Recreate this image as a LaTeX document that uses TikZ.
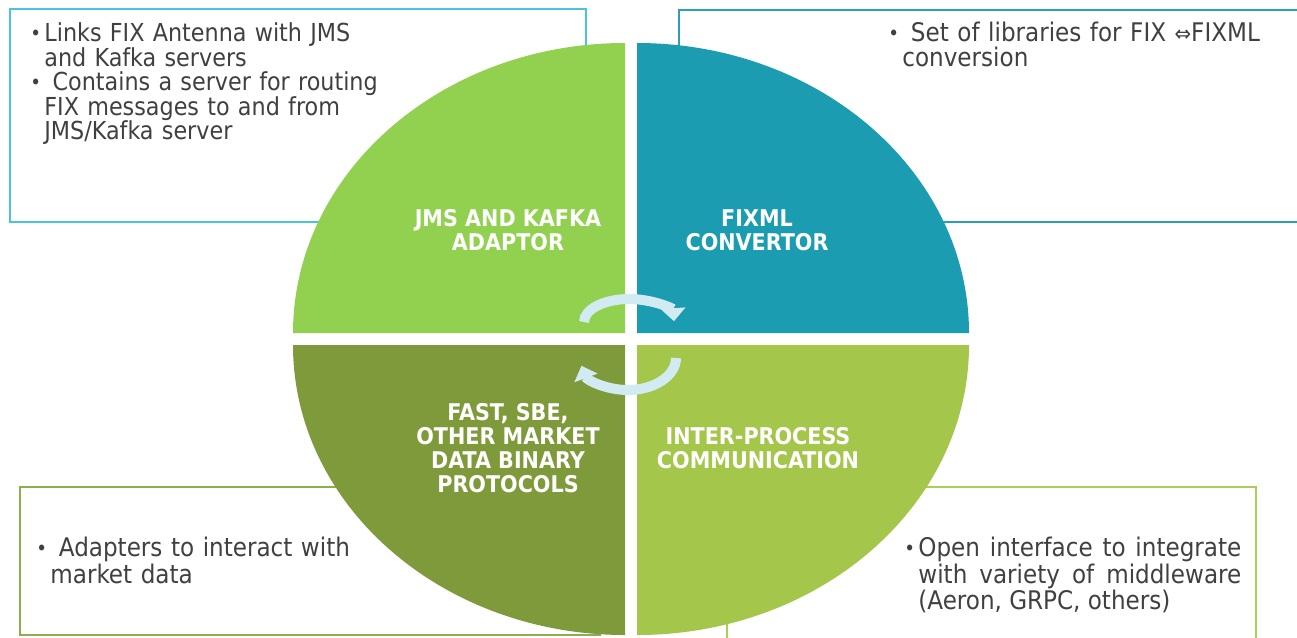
\documentclass[tikz,border=0pt]{standalone}
\usepackage{fontspec}
\setmainfont{DejaVu Sans Condensed}
\usetikzlibrary{arrows.meta}

\definecolor{jmsgreen}{HTML}{92D050}
\definecolor{fixteal}{HTML}{1B9CB0}
\definecolor{fastolive}{HTML}{7F9A3A}
\definecolor{ipcgreen}{HTML}{A4C64A}
\definecolor{turnblue}{HTML}{D2EAF1}
\definecolor{textgray}{HTML}{404040}
\definecolor{jmsline}{HTML}{4BC3DF}
\definecolor{fixline}{HTML}{2E9FB3}
\definecolor{fastline}{HTML}{8DAE4E}
\definecolor{ipcline}{HTML}{A9CF55}

\newcommand{\itm}[1]{\par\hangindent=8pt\hangafter=1\noindent%
  \makebox[8pt][l]{\fontsize{11.5}{11}\selectfont\raisebox{0.5pt}{\textbullet}}#1\par}

\tikzset{%
	qtitle/.style  = {text=white, align=center, inner sep=0pt,
		font=\bfseries\fontsize{13.1}{13.7}\selectfont}, % quadrant title
	desc/.style    = {text=textgray, anchor=north west, inner sep=0pt,
		font=\fontsize{14.6}{13.9}\selectfont}, % bullet text
	infobox/.style = {line width=1.2pt}, % frame behind the circle
	turn/.style    = {line width=0.2cm, draw=turnblue,
		-{Triangle[width=0.48cm,length=0.26cm]}} % circular arrow
}

\begin{document}
\begin{tikzpicture}[x=0.02cm,y=-0.02cm]
	\useasboundingbox (0,0) rectangle (1297,637);
	\clip (0,0) rectangle (1297,637);

	% frames
	\draw[infobox,jmsline]  (10,9)    rectangle (586,222);
	\draw[infobox,fixline]  (679,10)  rectangle (1320,222);
	\draw[infobox,fastline] (20,487)  rectangle (600,635);
	\draw[infobox,ipcline]  (727,487) rectangle (1256,660);

	% quadrants
	\fill[jmsgreen]  (625,333) -- (293,333) arc[start angle=180, end angle=270, x radius=332, y radius=290] -- cycle;
	\fill[fixteal]   (637,333) -- (637,43)  arc[start angle=270, end angle=360, x radius=332, y radius=290] -- cycle;
	\fill[fastolive] (625,345) -- (293,345) arc[start angle=180, end angle=90,  x radius=332, y radius=290] -- cycle;
	\fill[ipcgreen]  (637,345) -- (969,345) arc[start angle=0,   end angle=90,  x radius=332, y radius=290] -- cycle;

	\node[qtitle] (jms)   at (508,230) {JMS AND KAFKA\\ADAPTOR};
	\node[qtitle] (fixml) at (757,230) {FIXML\\CONVERTOR};
	\node[qtitle] (fast)  at (508,448) {FAST, SBE,\\OTHER MARKET\\DATA BINARY\\PROTOCOLS};
	\node[qtitle] (ipc)   at (758,448) {INTER-PROCESS\\COMMUNICATION};

	% arrows in the middle
	\coordinate (hubtop) at (629,322);
	\coordinate (hubbot) at (628,358);
	\draw[turn] (hubtop) ++(180:45 and 23) arc[start angle=180, end angle=358, x radius=45, y radius=23];
	\draw[turn] (hubbot) ++(0:48 and 32)   arc[start angle=0,   end angle=166, x radius=48, y radius=32];

	% texts
	\node[desc, text width=9cm, font=\fontsize{14.1}{13.9}\selectfont] (jmsText) at (30,17)
		{\itm{Links FIX Antenna with JMS\newline and Kafka servers}
		 \itm{ Contains a server for routing\newline FIX messages to and from\newline JMS/Kafka server}};
	\node[desc, text width=8cm] (fixText) at (888,17)
		{\itm{ Set of libraries for FIX {\fontsize{12.5}{12}\selectfont⇔}FIXML\newline conversion}};
	\node[desc, text width=8cm] (fastText) at (36,532)
		{\itm{ Adapters to interact with\newline market data}};
	\node[desc, text width=6.74cm, align=justify] (ipcText) at (904,532)
		{\itm{Open interface to integrate\linebreak with variety of middleware\linebreak (Aeron, GRPC, others)}};
\end{tikzpicture}
\end{document}
